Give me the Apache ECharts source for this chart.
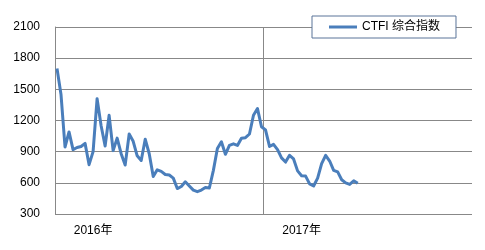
<!DOCTYPE html>
<html>
<head>
<meta charset="utf-8">
<script src="https://cdn.jsdelivr.net/npm/echarts@6/dist/echarts.min.js"></script>
<style>
html,body{margin:0;padding:0;background:#fff;}
#c{width:485px;height:250px;}
</style>
</head>
<body>
<div id="c"></div>
<script>
var years = ['2016年', '2017年'];
var weeksPerYear = 52;
var seriesName = 'CTFI 综合指数';
var ctfi = [
  1700, 1450, 945, 1090, 920, 940, 950, 980, 775, 900,
  1410, 1150, 955, 1250, 910, 1030, 880, 771, 1070, 1000,
  860, 815, 1020, 880, 660, 725, 710, 680, 675, 645,
  545, 565, 610, 570, 530, 515, 530, 555, 550, 720,
  930, 995, 875, 960, 975, 960, 1030, 1035, 1070, 1250,
  1315, 1140, 1110, 950, 970, 920, 840, 800, 865, 830,
  715, 668, 665, 590, 570, 645, 785, 865, 810, 720,
  705, 630, 600, 585, 620, 595
];
var yTicks = {min: 300, max: 2100, step: 300};
var labelWeekIndex = 9;

var categories = [];
years.forEach(function (y) {
  for (var w = 1; w <= weeksPerYear; w++) categories.push(y + '第' + w + '周');
});

var chart = echarts.init(document.getElementById('c'), null, {renderer: 'canvas'});
var font = '"Liberation Sans", Arial, "Noto Sans CJK SC", sans-serif';
chart.setOption({
  animation: false,
  textStyle: {fontFamily: font},
  grid: {left: 55, right: 13, top: 27, bottom: 36},
  legend: {
    left: 312, top: 16,
    padding: [5, 16, 5, 17],
    backgroundColor: '#fff',
    borderColor: '#5A7499', borderWidth: 1,
    itemWidth: 28, itemHeight: 12,
    textStyle: {fontSize: 12, color: '#000', fontFamily: font},
    data: [{name: seriesName, icon: 'path://M0,5 L28,5 L28,8 L0,8 Z'}]
  },
  xAxis: {
    type: 'category',
    data: categories,
    boundaryGap: true,
    axisLine: {show: false},
    axisTick: {show: false},
    axisLabel: {
      interval: function (i) { return i % weeksPerYear === labelWeekIndex; },
      formatter: function (v) { return v.slice(0, 5); },
      color: '#000', fontSize: 12, margin: 11, fontFamily: font
    },
    splitLine: {
      show: true,
      interval: function (i) { return i % weeksPerYear === 0; },
      lineStyle: {color: ['#888', '#888', 'rgba(0,0,0,0)'], width: 1}
    }
  },
  yAxis: {
    type: 'value',
    min: yTicks.min, max: yTicks.max, interval: yTicks.step,
    axisLine: {show: true, lineStyle: {color: '#888'}},
    axisTick: {show: false},
    axisLabel: {
      color: '#000', fontSize: 12, margin: 15, fontFamily: font,
      formatter: function (v) { return String(v); }
    },
    splitLine: {lineStyle: {color: '#888', width: 1}}
  },
  series: [{
    name: seriesName,
    type: 'line',
    data: ctfi,
    symbol: 'none',
    lineStyle: {color: '#4A7EBB', width: 3, join: 'round'},
    itemStyle: {color: '#4A7EBB'}
  }]
});
</script>
</body>
</html>
